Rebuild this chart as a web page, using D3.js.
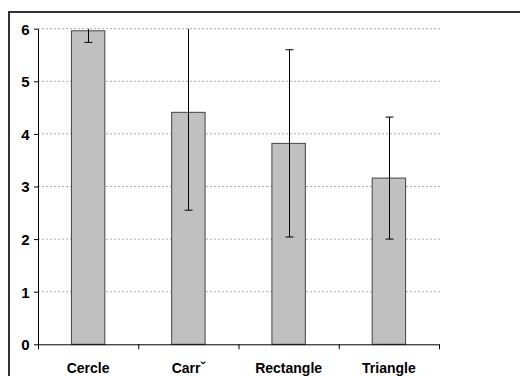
<!DOCTYPE html>
<meta charset="utf-8">
<style>
  body { margin: 0; background: #fff; }
</style>
<script src="https://d3js.org/d3.v7.min.js"></script>
<div id="chart"></div>
<script>
// data
var categories = ["Cercle", "Carr\u02C7", "Rectangle", "Triangle"];
var means = [5.96, 4.41, 3.82, 3.16];
var errors = [0.22, 1.86, 1.78, 1.16];
var yTicks = [0, 1, 2, 3, 4, 5, 6];

var W = 520, H = 376;
var margin = {top: 28.7, left: 38, right: 81, bottom: 31.7};
var width = W - margin.left - margin.right,
    height = H - margin.top - margin.bottom;

var svg = d3.select("#chart").append("svg")
    .attr("width", W).attr("height", H);

// outer frame (runs off right and bottom)
svg.append("rect")
    .attr("x", 9).attr("y", 12)
    .attr("width", 600).attr("height", 600)
    .attr("fill", "none").attr("stroke", "#333").attr("stroke-width", 2);

var g = svg.append("g")
    .attr("transform", "translate(" + margin.left + "," + margin.top + ")");

var x = d3.scaleBand().domain(categories).range([0, width]).paddingInner(0).paddingOuter(0);
var y = d3.scaleLinear().domain([0, 6]).range([height, 0]);

// gridlines
g.selectAll("line.grid")
  .data(yTicks.filter(function(d){ return d > 0; }))
  .enter().append("line")
    .attr("class", "grid")
    .attr("x1", 0).attr("x2", width + 1)
    .attr("y1", function(d){ return y(d); })
    .attr("y2", function(d){ return y(d); })
    .attr("stroke", "#aaa")
    .attr("stroke-dasharray", "2,2");

// bars
var bw = x.bandwidth() / 3;
g.selectAll("rect.bar")
  .data(means)
  .enter().append("rect")
    .attr("class", "bar")
    .attr("x", function(d, i){ return x(categories[i]) + x.bandwidth()/2 - bw/2; })
    .attr("y", function(d){ return y(d); })
    .attr("width", bw)
    .attr("height", function(d){ return height - y(d); })
    .attr("fill", "#c0c0c0")
    .attr("stroke", "#444")
    .attr("stroke-width", 1);

// error bars, clipped at axis max
g.selectAll("g.err")
  .data(means)
  .enter().append("g")
    .attr("class", "err")
    .each(function(d, i){
      var cx = Math.round(x(categories[i]) + x.bandwidth()/2) + 0.5;
      var lo = d - errors[i], hi = d + errors[i];
      var e = d3.select(this);
      e.append("line")
        .attr("x1", cx).attr("x2", cx)
        .attr("y1", y(lo)).attr("y2", y(Math.min(hi, 6)))
        .attr("stroke", "#000");
      e.append("line")
        .attr("x1", cx - 4).attr("x2", cx + 4)
        .attr("y1", y(lo)).attr("y2", y(lo))
        .attr("stroke", "#000");
      if (hi <= 6) {
        e.append("line")
          .attr("x1", cx - 4).attr("x2", cx + 4)
          .attr("y1", y(hi)).attr("y2", y(hi))
          .attr("stroke", "#000");
      }
    });

// y axis
var yAxis = g.append("g")
    .call(d3.axisLeft(y).tickValues(yTicks).tickSize(4).tickSizeOuter(0).tickFormat(d3.format("d")));
yAxis.select(".domain").attr("stroke", "#000");
yAxis.selectAll("text")
    .attr("x", -8.5).attr("dy", "0.36em")
    .style("font", "bold 15px Arial, 'Liberation Sans', sans-serif")
    .style("fill", "#000");

// x axis
var xAxis = g.append("g")
    .attr("transform", "translate(0," + height + ")")
    .call(d3.axisBottom(x).tickSize(0).tickSizeOuter(0));
xAxis.select(".domain").attr("stroke", "#000");
xAxis.selectAll("text")
    .attr("y", 28.4).attr("dy", 0)
    .style("font", "bold 14px Arial, 'Liberation Sans', sans-serif")
    .style("fill", "#000");

// category boundary ticks
g.selectAll("line.xb")
  .data(categories.concat([null]))
  .enter().append("line")
    .attr("x1", function(d, i){ return i * x.step() + 0.5; })
    .attr("x2", function(d, i){ return i * x.step() + 0.5; })
    .attr("y1", height).attr("y2", height + 5)
    .attr("stroke", "#000");
</script>
